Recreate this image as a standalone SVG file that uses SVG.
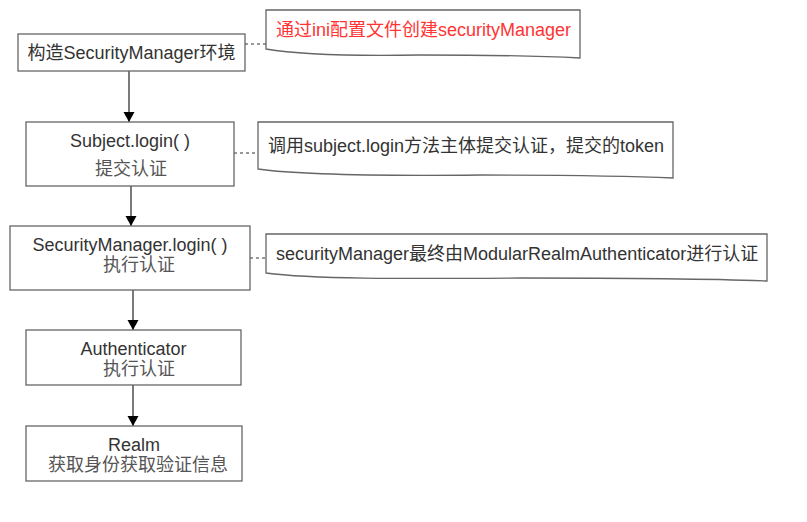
<svg xmlns="http://www.w3.org/2000/svg" width="807" height="522" viewBox="0 0 807 522">
<defs>
<marker id="arr" viewBox="0 0 10 12" refX="10" refY="6" markerWidth="10" markerHeight="12" markerUnits="userSpaceOnUse" orient="auto">
<path d="M0,0.5 L10,6 L0,11.5 z" fill="#000"/>
</marker>
<style>
.box{fill:#fff;stroke:#666;stroke-width:1.3}
.note{fill:#fff;stroke:#666;stroke-width:1.3}
.t{font-family:"Liberation Sans","Noto Sans CJK SC",Arial,sans-serif;font-size:18px;fill:#333}
.c{text-anchor:middle}
.g{fill:#555}
.red{fill:#ff3333}
.edge{stroke:#333;stroke-width:1.3;fill:none}
.dash{stroke:#333;stroke-width:1;stroke-dasharray:3,3;fill:none}
</style>
</defs>
<rect width="807" height="522" fill="#fff"/>
<g id="connectors">
<line class="edge" x1="129" y1="71" x2="129" y2="122" marker-end="url(#arr)"/>
<line class="edge" x1="131" y1="186" x2="131" y2="226" marker-end="url(#arr)"/>
<line class="edge" x1="133" y1="290" x2="133" y2="330" marker-end="url(#arr)"/>
<line class="edge" x1="133" y1="385" x2="133" y2="426" marker-end="url(#arr)"/>
<line class="dash" x1="245" y1="44" x2="266" y2="44"/>
<line class="dash" x1="234" y1="153" x2="258" y2="153"/>
<line class="dash" x1="250" y1="258" x2="266" y2="258"/>
</g>
<g id="n1">
<rect class="box" x="18" y="34" width="227" height="37"/>
<text class="t c" x="131.5" y="59">构造SecurityManager环境</text>
</g>
<g id="note1">
<path class="note" d="M266,10 H580 V58 C520,55 460,55 420,55 C360,56 300,55 266,49 Z"/>
<text class="t red" x="276" y="36">通过ini配置文件创建securityManager</text>
</g>
<g id="n2">
<rect class="box" x="26" y="122" width="208" height="64"/>
<text class="t c" x="130" y="147">Subject.login( )</text>
<text class="t c g" x="131" y="175">提交认证</text>
</g>
<g id="note2">
<path class="note" d="M258,122 H673 V178 C610,175 540,175 480,175 C380,176 300,175 258,169 Z"/>
<text class="t" x="268" y="152">调用subject.login方法主体提交认证，提交的token</text>
</g>
<g id="n3">
<rect class="box" x="10" y="226" width="240" height="64"/>
<text class="t c" x="130" y="251">SecurityManager.login( )</text>
<text class="t c g" x="139" y="271">执行认证</text>
</g>
<g id="note3">
<path class="note" d="M266,234 H767 V281 C690,278 600,278 520,278 C400,279 310,279 266,273 Z"/>
<text class="t" x="276" y="260">securityManager最终由ModularRealmAuthenticator进行认证</text>
</g>
<g id="n4">
<rect class="box" x="26" y="330" width="215" height="55"/>
<text class="t c" x="133.5" y="355">Authenticator</text>
<text class="t c g" x="139" y="375">执行认证</text>
</g>
<g id="n5">
<rect class="box" x="26" y="426" width="216" height="55"/>
<text class="t c" x="134" y="451">Realm</text>
<text class="t c g" x="138" y="471">获取身份获取验证信息</text>
</g>
</svg>
